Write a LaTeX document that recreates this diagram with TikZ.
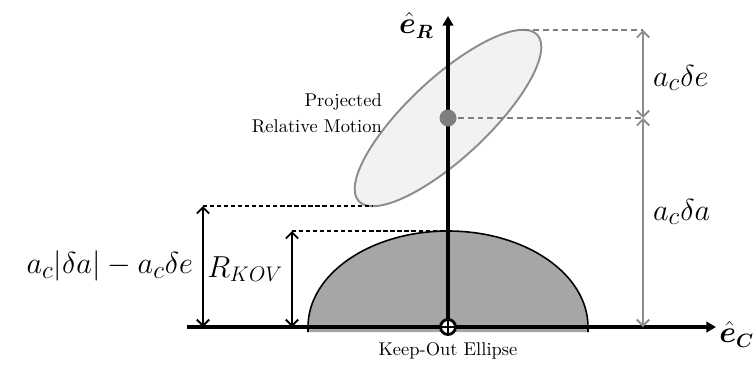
\documentclass[tikz,border=0pt]{standalone}
\usepackage{amsmath,amssymb,bm}
\usetikzlibrary{arrows.meta,positioning,calc}
\definecolor{kogray}{HTML}{A6A6A6}
\definecolor{dimgray}{HTML}{8C8C8C}
\definecolor{ellfill}{HTML}{F2F2F2}
\definecolor{dotgray}{HTML}{7F7F7F}

\begin{document}
\begin{tikzpicture}[x=0.02cm,y=0.02cm,>=Latex, every node/.style={font=\fontsize{10.5}{12}\selectfont}]
\tikzstyle{axis}=[line width=2.2pt,-{Triangle[length=5.5pt,width=6pt]}]
\tikzstyle{dimblk}=[line width=1.1pt,{Straight Barb[length=3.5pt,width=7pt]}-{Straight Barb[length=3.5pt,width=7pt]}]
\tikzstyle{dimgry}=[dimblk,draw=dimgray]
\tikzstyle{guideblk}=[line width=0.9pt,dash pattern=on 2.4pt off 1.6pt]
\tikzstyle{guidegry}=[line width=0.9pt,draw=dotgray,dash pattern=on 3.4pt off 2.2pt]
\tikzstyle{mathlbl}=[font=\fontsize{19}{23}\selectfont,inner sep=1pt]
\tikzstyle{axlbl}=[font=\fontsize{16}{19}\selectfont,inner sep=0pt]
\useasboundingbox (-448,-39) rectangle (305,327);

% keep-out region
\filldraw[fill=kogray,line width=0.9pt] (-140,-5) -- (-140,0)
  arc[start angle=180,end angle=0,x radius=140,y radius=96] -- (140,-5);
\node[below=5pt of {(0,0)}] (ko) {Keep-Out Ellipse};

% relative motion ellipse
\coordinate (ctr) at (0,209);
\draw[fill=ellfill,draw=dimgray,line width=1.1pt] (ctr) ellipse[x radius=122,y radius=40,rotate=43];
\coordinate (etop) at (75,297);
\coordinate (ebot) at (-75,121);
\node[align=right,anchor=east,font=\fontsize{10.5}{15}\selectfont] (proj) at (-60,214) {Projected\\Relative Motion};

% axes
\coordinate (O) at (0,0);
\coordinate (cstart) at (-261,0);
\coordinate (cend) at (268,0);
\coordinate (rend) at (0,311);
\draw[axis] (cstart) -- (cend);
\draw[axis] (O) -- (rend);
\node[axlbl,anchor=east] (eR) at (-14,302) {$\hat{\bm{e}}_{\bm{R}}$};
\node[axlbl,anchor=west] (eC) at (271,-7) {$\hat{\bm{e}}_{\bm{C}}$};
\draw[line width=1.6pt,fill=white] (O) circle[radius=7.5];
\draw[line width=1.6pt] (-7.5,0) -- (7.5,0) (0,-7.5) -- (0,7.5);
\fill[dotgray] (ctr) circle[radius=8.5];

% gray dimensions on the right
\coordinate (gtop) at (195,297);
\coordinate (gmid) at (195,209);
\coordinate (gbot) at (195,0);
\draw[guidegry] (etop) -- (gtop);
\draw[guidegry] (ctr) -- (gmid);
\draw[dimgry] (gtop) -- (gmid);
\draw[dimgry] (gmid) -- (gbot);
\node[mathlbl,anchor=west] (de) at (203,249) {$a_c\delta e$};
\node[mathlbl,anchor=west] (da) at (203,115) {$a_c\delta a$};

% black dimensions on the left
\coordinate (btop) at (-245,121);
\coordinate (bbot) at (-245,0);
\coordinate (ktop) at (-156,96);
\coordinate (kbot) at (-156,0);
\coordinate (kpeak) at (0,96);
\draw[guideblk] (btop) -- (ebot);
\draw[guideblk] (ktop) -- (kpeak);
\draw[dimblk] (btop) -- (bbot);
\draw[dimblk] (ktop) -- (kbot);
\node[mathlbl,anchor=east] (gap) at (-253,61) {$a_c|\delta a|-a_c\delta e$};
\node[mathlbl,anchor=east,font=\fontsize{17}{20}\selectfont] (rkov) at (-163,58) {$R_{KOV}$};
\end{tikzpicture}
\end{document}
